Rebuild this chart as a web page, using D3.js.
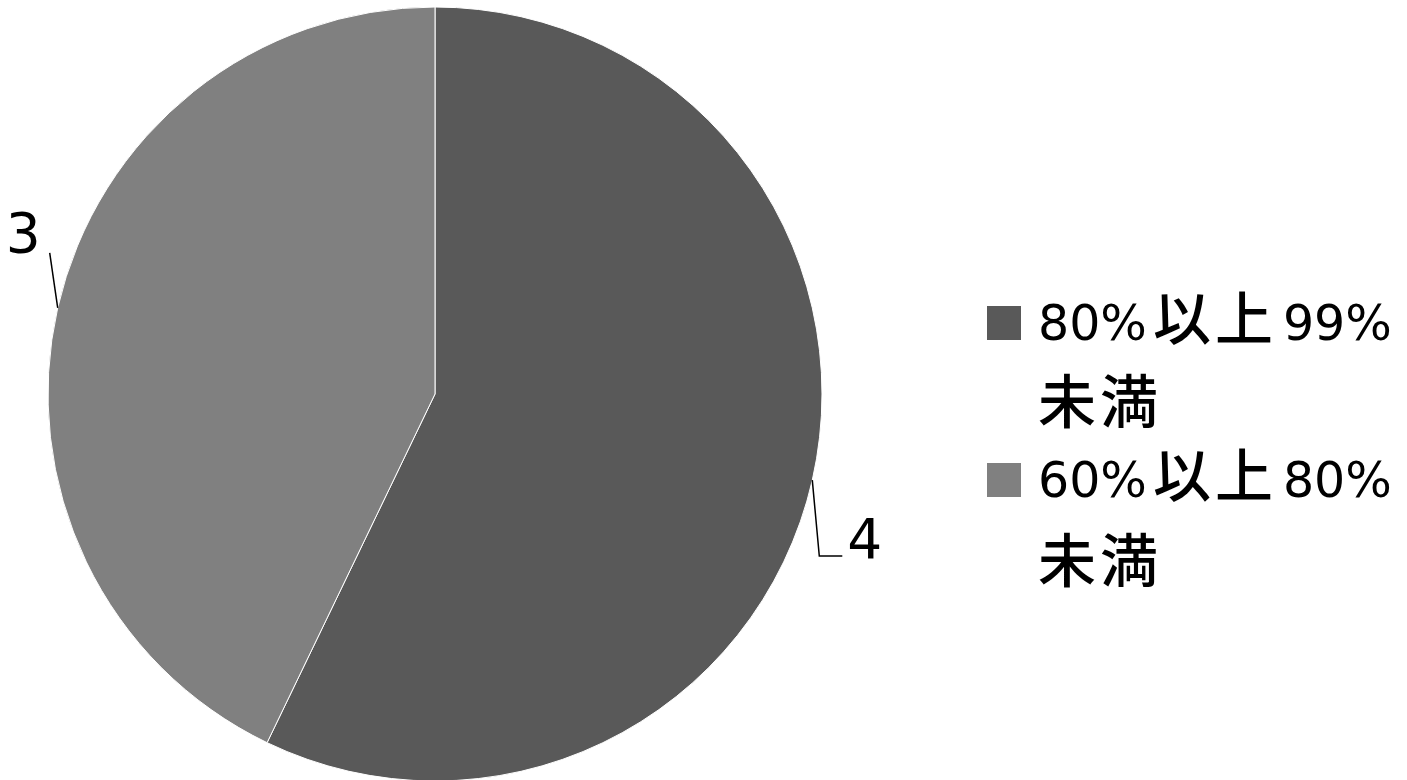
<!DOCTYPE html>
<html>
<head>
<meta charset="utf-8">
<script src="https://cdn.jsdelivr.net/npm/d3@7"></script>
<style>
  body { margin: 0; background: #fff; }
  svg { display: block; }
</style>
</head>
<body>
<div id="chart"></div>
<script>
// data
const categories = ['80%以上99%未満', '60%以上80%未満'];
const values = [4, 3];
const colors = ['#595959', '#808080'];
// legend lines split into runs (latin / CJK) so each gets its own face
const legendLines = [
  [['80%', 'l'], ['以上', 'c'], ['99%', 'l']],
  [['未満', 'c']],
  [['60%', 'l'], ['以上', 'c'], ['80%', 'l']],
  [['未満', 'c']]
];

const width = 1407, height = 780;
const cx = 435, cy = 394, radius = 387;

const svg = d3.select('#chart').append('svg')
  .attr('width', width)
  .attr('height', height);

const g = svg.append('g').attr('transform', `translate(${cx},${cy})`);

const pie = d3.pie().sort(null).value(d => d)
const arcs = pie(values)
const arc = d3.arc().innerRadius(0).outerRadius(radius)

g.selectAll('path')
  .data(arcs)
  .join('path')
  .attr('d', arc)
  .attr('fill', (d, i) => colors[i])
  .attr('stroke', '#fff')
  .attr('stroke-width', 1)

// leader lines + value labels
arcs.forEach(d => {
  const mid = (d.startAngle + d.endAngle) / 2
  const x0 = Math.sin(mid) * radius
  const y0 = -Math.cos(mid) * radius
  const right = x0 > 0
  let pts, tx, ty, anchor
  if (right) {
    pts = [[x0, y0], [x0 + 7, y0 + 76], [x0 + 30, y0 + 76]]
    tx = x0 + 35; ty = y0 + 78; anchor = 'start'
  } else {
    pts = [[x0, y0], [x0 - 8, y0 - 55]]
    tx = x0 - 17; ty = y0 - 56; anchor = 'end'
  }
  g.append('path')
    .attr('d', d3.line()(pts))
    .attr('fill', 'none')
    .attr('stroke', '#000')
    .attr('stroke-width', 1.5)
  g.append('text')
    .attr('x', tx)
    .attr('y', ty)
    .attr('text-anchor', anchor)
    .attr('font-family', 'DejaVu Sans, sans-serif')
    .attr('font-size', 55)
    .attr('fill', '#000')
    .text(d.data)
})

// legend
const legend = svg.append('g').attr('transform', 'translate(987,0)')
const lineY = [340, 423, 497, 582]

legend.selectAll('rect')
  .data(categories)
  .join('rect')
  .attr('x', 0)
  .attr('y', (d, i) => lineY[i * 2] - 34)
  .attr('width', 34)
  .attr('height', 34)
  .attr('fill', (d, i) => colors[i])

legendLines.forEach((runs, i) => {
  const t = legend.append('text')
    .attr('x', 51)
    .attr('y', lineY[i])
    .attr('fill', '#000')
  runs.forEach(([s, kind], j) => {
    t.append('tspan')
      .attr('dx', j > 0 ? 6 : 0)
      .attr('font-family', kind === 'c' ? 'Noto Sans CJK JP' : 'DejaVu Sans')
      .attr('font-size', kind === 'c' ? 58 : 49)
      .attr('font-weight', kind === 'c' ? 500 : 400)
      .attr('letter-spacing', kind === 'c' ? 4 : 0)
      .text(s)
  })
})
</script>
</body>
</html>
